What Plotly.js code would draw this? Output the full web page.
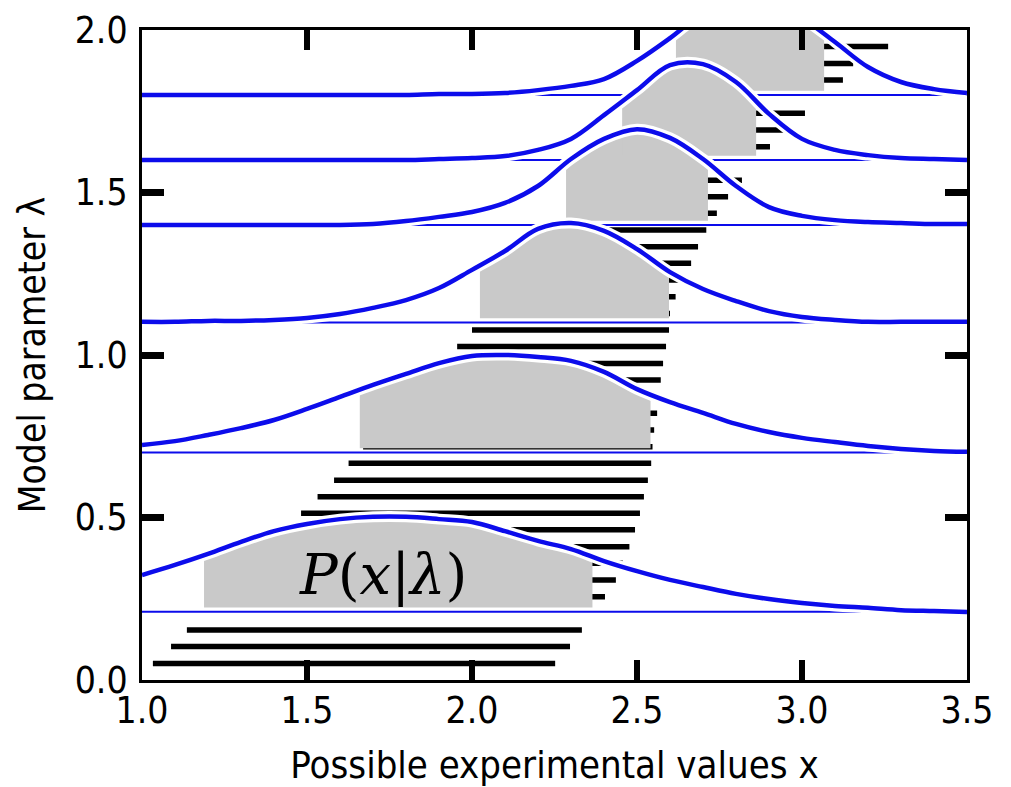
<!DOCTYPE html>
<html>
<head>
<meta charset="utf-8">
<script src="https://cdn.plot.ly/plotly-3.0.1.min.js"></script>
<style>html,body{margin:0;padding:0;background:#fff}</style>
</head>
<body>
<div id="chart" style="width:1011px;height:787px"></div>
<script>
// x positions where the curves were read
const xGrid = [1.0,1.1,1.2,1.3,1.4,1.5,1.6,1.7,1.8,1.9,2.0,2.1,2.2,2.3,2.4,2.5,2.6,2.7,2.8,2.9,3.0,3.1,3.2,3.3,3.4,3.5];

// model parameter values (baselines) for each P(x|lambda)
const baselines = [0.21, 0.70, 1.10, 1.40, 1.60, 1.80];

// curve heights (in lambda units)
const curveA = [0.323,0.354,0.388,0.425,0.458,0.480,0.495,0.502,0.502,0.495,0.486,0.458,0.428,0.403,0.366,0.335,0.308,0.286,0.265,0.249,0.237,0.228,0.222,0.215,0.212,0.209];
const curveB = [0.723,0.735,0.754,0.775,0.800,0.834,0.871,0.908,0.942,0.975,0.997,1.000,0.994,0.982,0.948,0.895,0.855,0.822,0.788,0.763,0.745,0.732,0.720,0.711,0.705,0.702];
const curveC = [1.102,1.102,1.105,1.105,1.108,1.114,1.126,1.145,1.169,1.206,1.262,1.320,1.388,1.406,1.382,1.326,1.255,1.203,1.166,1.135,1.117,1.108,1.102,1.102,1.102,1.102];
const curveD = [1.400,1.400,1.400,1.400,1.400,1.400,1.400,1.403,1.412,1.425,1.440,1.468,1.520,1.603,1.665,1.695,1.668,1.603,1.520,1.455,1.428,1.415,1.409,1.406,1.403,1.403];
const curveE = [1.600,1.600,1.600,1.600,1.600,1.600,1.600,1.600,1.600,1.603,1.606,1.612,1.631,1.665,1.738,1.815,1.892,1.895,1.840,1.742,1.665,1.631,1.615,1.606,1.603,1.600];
const curveF = [1.800,1.800,1.800,1.800,1.800,1.800,1.800,1.800,1.800,1.803,1.803,1.806,1.815,1.828,1.849,1.905,1.975,2.052,2.095,2.092,2.037,1.963,1.886,1.840,1.818,1.806];
const curves = [curveA, curveB, curveC, curveD, curveE, curveF];

// shaded acceptance intervals [lo, hi] for each curve
const intervalLo = [1.188, 1.660, 2.024, 2.285, 2.455, 2.618];
const intervalHi = [2.365, 2.541, 2.597, 2.715, 2.861, 3.067];

// confidence belt strokes
const beltLambda = [0.051,0.103,0.154,0.256,0.308,0.359,0.410,0.462,0.513,0.564,0.615,0.667,0.718,0.769,0.821,0.872,0.923,0.974,1.026,1.077,1.128,1.179,1.231,1.282,1.333,1.385,1.436,1.487,1.538,1.641,1.692,1.744,1.846,1.897,1.949];
const beltLo = [1.033,1.088,1.136,1.240,1.290,1.335,1.385,1.430,1.482,1.532,1.582,1.626,1.670,1.710,1.760,1.810,1.860,1.910,1.955,2.000,2.040,2.080,2.120,2.160,2.200,2.245,2.310,2.340,2.380,2.480,2.510,2.550,2.660,2.700,2.740];
const beltHi = [2.252,2.297,2.333,2.403,2.436,2.457,2.477,2.494,2.509,2.521,2.533,2.543,2.547,2.552,2.561,2.566,2.572,2.579,2.588,2.597,2.600,2.617,2.640,2.664,2.685,2.710,2.742,2.776,2.818,2.903,2.948,3.009,3.124,3.155,3.261];

const xTicks = [1.0,1.5,2.0,2.5,3.0,3.5];
const xTickText = ['1.0','1.5','2.0','2.5','3.0','3.5'];
const yTicks = [0.0,0.5,1.0,1.5,2.0];
const yTickText = ['0.0','0.5','1.0','1.5','2.0'];

const BLUE = 'rgb(12,12,235)';
const GRAY = 'rgb(201,201,201)';
const GAP = 0.013;
const FONT = "'DejaVu Sans Condensed', 'DejaVu Sans', sans-serif";

function interp(xs, ys, x) {
  for (let i = 0; i < xs.length - 1; i++) {
    if (x >= xs[i] && x <= xs[i+1]) {
      const t = (x - xs[i]) / (xs[i+1] - xs[i]);
      return ys[i] + t * (ys[i+1] - ys[i]);
    }
  }
  return ys[ys.length - 1];
}

const traces = [];

// belt strokes
const bx = [], by = [];
beltLambda.forEach((l, i) => { bx.push(beltLo[i], beltHi[i], null); by.push(l, l, null); });
traces.push({x: bx, y: by, mode: 'lines', line: {color: '#000', width: 5.5}, hoverinfo: 'skip', showlegend: false});

// thin baselines
baselines.forEach(b => {
  traces.push({x: [1.0, 3.5], y: [b, b], mode: 'lines', line: {color: BLUE, width: 2}, hoverinfo: 'skip', showlegend: false});
});

// gray shaded regions
curves.forEach((c, i) => {
  const lo = intervalLo[i], hi = intervalHi[i], b = baselines[i] + GAP;
  traces.push({x: [lo, hi], y: [b, b], mode: 'lines', line: {width: 0, color: GRAY}, hoverinfo: 'skip', showlegend: false});
  const sx = [lo], sy = [interp(xGrid, c, lo)];
  xGrid.forEach((xv, j) => { if (xv > lo + 1e-9 && xv < hi - 1e-9) { sx.push(xv); sy.push(c[j]); } });
  sx.push(hi); sy.push(interp(xGrid, c, hi));
  traces.push({x: sx, y: sy, mode: 'lines', fill: 'tonexty', fillcolor: GRAY,
    line: {width: 0, color: GRAY, shape: 'spline', smoothing: 1}, hoverinfo: 'skip', showlegend: false});
});

// thick curves with white outline
curves.forEach(c => {
  traces.push({x: xGrid, y: c, mode: 'lines', line: {color: '#fff', width: 11, shape: 'spline', smoothing: 1}, hoverinfo: 'skip', showlegend: false});
  traces.push({x: xGrid, y: c, mode: 'lines', line: {color: BLUE, width: 4.5, shape: 'spline', smoothing: 1}, hoverinfo: 'skip', showlegend: false});
});

const layout = {
  width: 1011, height: 787,
  margin: {l: 142, r: 44, t: 30, b: 107},
  paper_bgcolor: '#fff', plot_bgcolor: '#fff',
  showlegend: false,
  font: {family: FONT, color: '#000'},
  xaxis: {
    range: [1.0, 3.5], tickvals: xTicks, ticktext: xTickText,
    ticks: 'inside', ticklen: 20, tickwidth: 6, tickcolor: '#000',
    showline: true, linewidth: 3, linecolor: '#000', mirror: 'ticks',
    showgrid: false, zeroline: false,
    tickfont: {family: FONT, size: 37, color: '#000'},
    ticklabelstandoff: -4,
    title: {text: 'Possible experimental values x', font: {family: FONT, size: 38, color: '#000'}, standoff: 20}
  },
  yaxis: {
    range: [0.0, 2.0], tickvals: yTicks, ticktext: yTickText,
    ticks: 'inside', ticklen: 22, tickwidth: 7, tickcolor: '#000',
    showline: true, linewidth: 3, linecolor: '#000', mirror: 'ticks',
    showgrid: false, zeroline: false,
    tickfont: {family: FONT, size: 37, color: '#000'},
    ticklabelstandoff: 4,
    title: {text: 'Model parameter λ', font: {family: FONT, size: 37, color: '#000'}, standoff: 18}
  },
  annotations: [{
    x: 1.73, y: 0.326, xref: 'x', yref: 'y', showarrow: false,
    text: '<i>P</i>(<i>x</i>|<i>λ</i>)',
    font: {family: "'DejaVu Serif', 'Liberation Serif', serif", size: 56, color: '#000'}
  }]
};

Plotly.newPlot('chart', traces, layout, {displayModeBar: false, staticPlot: true});
</script>
</body>
</html>
